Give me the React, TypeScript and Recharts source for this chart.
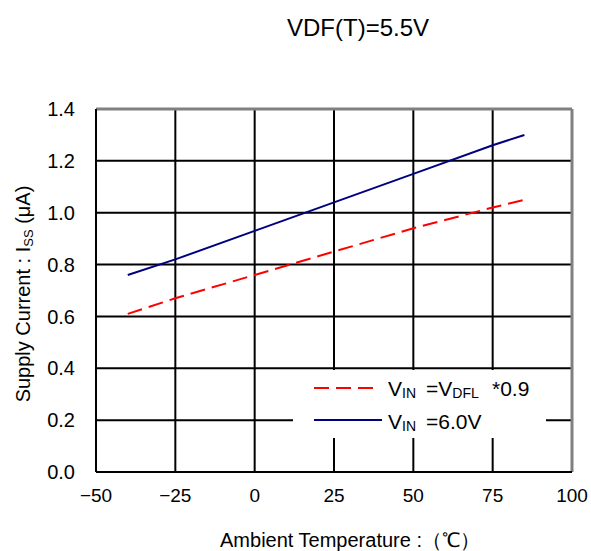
import React from 'react';
import {
  LineChart,
  Line,
  XAxis,
  YAxis,
  CartesianGrid,
  ReferenceLine,
  Customized,
} from 'recharts';

// ambient temperature (°C) and supply current (µA)
const temps = [-40, -25, 0, 25, 50, 75, 85];
const issVdfl = [0.61, 0.67, 0.76, 0.85, 0.94, 1.02, 1.05];
const issVin6 = [0.76, 0.82, 0.93, 1.04, 1.15, 1.26, 1.3];

const xTicks = [-50, -25, 0, 25, 50, 75, 100];
const yTicks = [0, 0.2, 0.4, 0.6, 0.8, 1.0, 1.2, 1.4];

const title = 'VDF(T)=5.5V';

const data = temps.map((t, i) => ({ t, dfl: issVdfl[i], v6: issVin6[i] }));

const FONT = '"Liberation Sans", Arial, sans-serif';
const RED = '#ff0000';
const BLUE = '#000080';

const fmtX = (v: number) => (v < 0 ? `\u2212${Math.abs(v)}` : `${v}`);

const Extras = () => (
  <g fontFamily={FONT} fill="#000">
    <text x={358} y={36} fontSize={24} textAnchor="middle">
      {title}
    </text>
    <text x={350} y={547} fontSize={20} textAnchor="middle">
      Ambient Temperature :（℃）
    </text>
    <text x={30} y={294} fontSize={20} textAnchor="middle" transform="rotate(-90 30 294)">
      Supply Current : I<tspan fontSize={13} dy={3}>SS</tspan>
      <tspan dy={-3}> (μA)</tspan>
    </text>

    {/* legend */}
    <rect x={293} y={370} width={253} height={68} fill="#fff" />
    <line x1={314} y1={388} x2={374} y2={388} stroke={RED} strokeWidth={2} strokeDasharray="15 7" />
    <text x={388} y={396} fontSize={21}>
      V<tspan fontSize={14} dy={2}>IN</tspan>
      <tspan dy={-2} x={426}>=V</tspan>
      <tspan fontSize={14} dy={2}>DFL</tspan>
      <tspan dy={-2} x={492}>*0.9</tspan>
    </text>
    <line x1={314} y1={420} x2={382} y2={420} stroke={BLUE} strokeWidth={2} />
    <text x={388} y={429} fontSize={21}>
      V<tspan fontSize={14} dy={2}>IN</tspan>
      <tspan dy={-2} x={426}>=6.0V</tspan>
    </text>
  </g>
);

export default function App() {
  return (
    <div style={{ position: 'absolute', left: 0, top: 0, width: 591, height: 551, background: '#fff' }}>
      <LineChart
        width={591}
        height={551}
        data={data}
        margin={{ top: 109, right: 19, bottom: 0, left: 40 }}
      >
        <CartesianGrid stroke="#000" strokeWidth={2} />
        <XAxis
          dataKey="t"
          type="number"
          domain={[-50, 100]}
          ticks={xTicks}
          tickFormatter={fmtX}
          height={79}
          tickSize={0}
          tickMargin={17}
          axisLine={{ stroke: '#000', strokeWidth: 2 }}
          tick={{ fill: '#000', fontSize: 19, fontFamily: FONT }}
        />
        <YAxis
          type="number"
          domain={[0, 1.4]}
          ticks={yTicks}
          tickFormatter={(v: number) => v.toFixed(1)}
          width={56}
          tickSize={0}
          tickMargin={21}
          axisLine={{ stroke: '#000', strokeWidth: 2 }}
          tick={{ fill: '#000', fontSize: 20, fontFamily: FONT }}
        />
        <ReferenceLine y={1.4} stroke="#808080" strokeWidth={3} />
        <ReferenceLine x={100} stroke="#808080" strokeWidth={3} />
        <Line
          dataKey="dfl"
          stroke={RED}
          strokeWidth={2}
          strokeDasharray="15 7"
          dot={false}
          isAnimationActive={false}
        />
        <Line dataKey="v6" stroke={BLUE} strokeWidth={2} dot={false} isAnimationActive={false} />
        <Customized component={Extras} />
      </LineChart>
    </div>
  );
}
